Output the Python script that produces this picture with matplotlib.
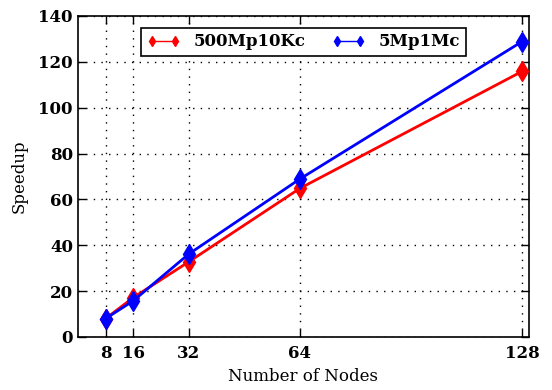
import matplotlib
matplotlib.use("Agg")
import matplotlib.pyplot as plt
from matplotlib.lines import Line2D

nodes = [8, 16, 32, 64, 128]
speedup_500mp = [8.0, 17.2, 32.8, 64.8, 115.8]
speedup_5mp = [8.0, 15.8, 36.2, 68.9, 128.8]
labels = ["500Mp10Kc", "5Mp1Mc"]
colors = ["red", "blue"]

plt.rcParams["font.family"] = "DejaVu Serif"

fig = plt.figure(figsize=(5.52, 3.9), dpi=100)
ax = fig.add_axes([0.141, 0.136, 0.817, 0.823])

for ys, c in zip([speedup_500mp, speedup_5mp], colors):
    ax.plot(nodes, ys, color=c, linewidth=2, marker="d", markersize=10,
            markeredgecolor=c, zorder=3)

ax.set_xlim(0, 130)
ax.set_ylim(0, 140)
ax.set_xticks(nodes)
ax.set_yticks(range(0, 141, 20))
ax.tick_params(direction="in", top=True, right=True, length=6, width=1, labelsize=12)
ax.tick_params(axis="x", pad=6)
for lab in ax.get_xticklabels() + ax.get_yticklabels():
    lab.set_fontweight("bold")
ax.grid(True, linestyle=(0, (1, 4.5)), color="black", linewidth=1)
for sp in ax.spines.values():
    sp.set_linewidth(1.2)

ax.set_xlabel("Number of Nodes", fontsize=12, labelpad=4)
ax.set_ylabel("Speedup", fontsize=12, labelpad=8)

handles = [Line2D([], [], color=c, marker="d", markersize=5, linewidth=1)
           for c in colors]
leg = ax.legend(handles, labels, ncol=2, numpoints=2, loc="upper center",
                bbox_to_anchor=(0.5, 0.99), fancybox=False, framealpha=1,
                edgecolor="black", prop={"weight": "bold", "size": 12},
                handlelength=2.0, columnspacing=1.6, borderpad=0.35,
                handletextpad=0.8)
leg.get_frame().set_linewidth(1.2)

fig.savefig("out.png", dpi=100)
